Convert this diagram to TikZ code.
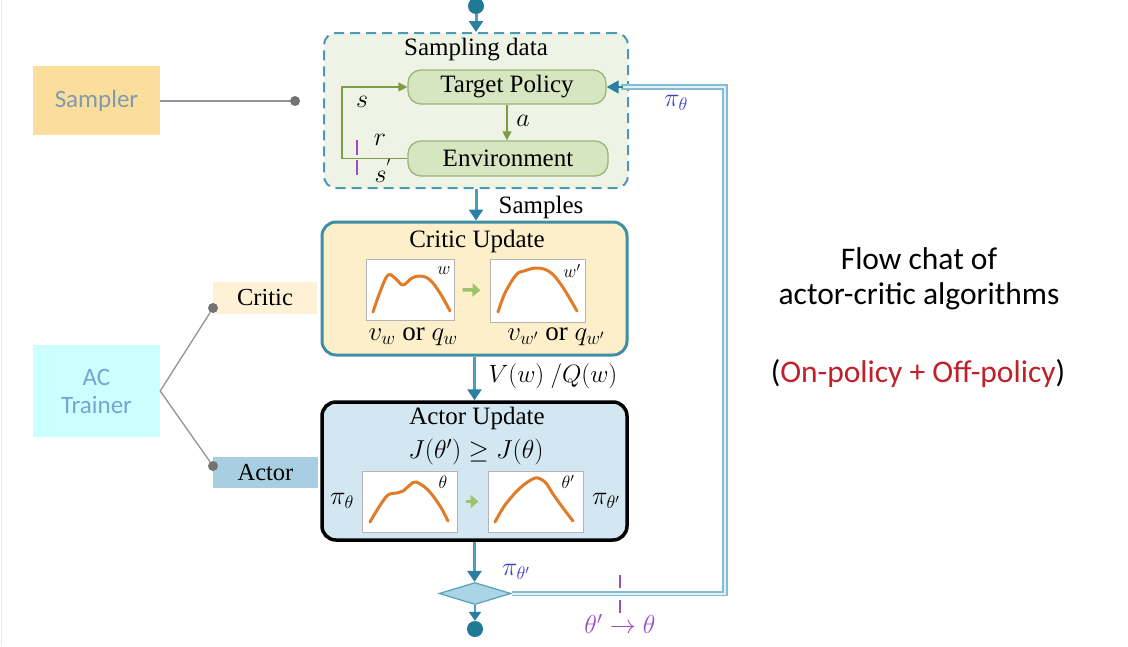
\RequirePackage{fix-cm}
\documentclass[tikz,border=0pt]{standalone}
\usepackage{amsmath,amssymb}
\usepackage{fontspec}
\setmainfont{Liberation Serif}
\newfontfamily\carl{Carlito}
\usetikzlibrary{shapes.geometric,arrows.meta,calc}
\definecolor{tealdot}{HTML}{1F7A96}
\definecolor{tealline}{HTML}{4E9DBA}
\definecolor{tealtip}{HTML}{2A80A0}
\definecolor{dashb}{HTML}{4D98B2}
\definecolor{sampbg}{HTML}{EEF3E6}
\definecolor{gfill}{HTML}{D6E6C0}
\definecolor{gdraw}{HTML}{9CB57A}
\definecolor{garrow}{HTML}{7C9E42}
\definecolor{lgarrow}{HTML}{9CC46A}
\definecolor{critbg}{HTML}{FCEFC9}
\definecolor{critdraw}{HTML}{3E8EA8}
\definecolor{actbg}{HTML}{D2E7F1}
\definecolor{orangec}{HTML}{E07B2A}
\definecolor{samplerbg}{HTML}{FBDE9C}
\definecolor{samplertx}{HTML}{7F9BB0}
\definecolor{acbg}{HTML}{CCFFFF}
\definecolor{actx}{HTML}{78A4D2}
\definecolor{criticlab}{HTML}{FFF1D6}
\definecolor{actorlab}{HTML}{A8CFE1}
\definecolor{pib}{HTML}{3A3FCC}
\definecolor{purp}{HTML}{9A4FC0}
\definecolor{darkred}{HTML}{C0202A}
\definecolor{fbline}{HTML}{84BCD3}
\definecolor{fbinner}{HTML}{E2F1F7}
\definecolor{diamf}{HTML}{A9D5E7}
\definecolor{diamd}{HTML}{5AA0B8}
\definecolor{plotd}{HTML}{B4B4B4}
\begin{document}
\begin{tikzpicture}[x=1pt,y=-1pt,
  font=\fontsize{25}{29}\selectfont,
  lab/.style={rectangle,inner sep=0pt,anchor=center},
  sidebox/.style={rectangle,inner sep=0pt,font=\carl\fontsize{25}{29}\selectfont,align=center},
  tagbox/.style={rectangle,inner sep=0pt,font=\fontsize{24.5}{28}\selectfont},
  dotnode/.style={circle,fill=gray!90!black,inner sep=0pt,minimum size=10pt},
  tealdotnode/.style={circle,fill=tealdot,inner sep=0pt,minimum size=16pt},
  greyline/.style={draw=gray!85,line width=1.3pt},
  greenbox/.style={rectangle,rounded corners=13pt,draw=gdraw,fill=gfill,line width=1.3pt,inner sep=0pt},
  plotbox/.style={rectangle,draw=plotd,fill=white,line width=1pt,inner sep=0pt},
  flow/.style={draw=tealline,line width=3pt,-{Triangle[length=11pt,width=14pt,color=tealtip]}},
  garr/.style={draw=garrow,line width=1.3pt,-{Triangle[length=9pt,width=9pt]}},
  lgarr/.style={draw=lgarrow,line width=3.5pt,-{Triangle[length=8pt,width=13pt]},shorten <=8pt,shorten >=9pt},
  curve/.style={draw=orangec,line width=3pt,line cap=round,line join=round},
  fb/.style={draw=fbline,line width=1.7pt,double=fbinner,double distance=2pt},
  purpmark/.style={draw=purp,line width=1.2pt},
  mlab/.style={inner sep=0pt,font=\fontsize{26}{30}\selectfont},
  pilab/.style={inner sep=0pt,font=\fontsize{26}{30}\selectfont},
  smlab/.style={inner sep=0pt,font=\fontsize{18}{21}\selectfont},
  vqlabel/.style={inner sep=0pt,font=\fontsize{27}{31}\selectfont},
  bigsans/.style={inner sep=0pt,font=\carl\fontsize{31.5}{36}\selectfont}
]
\useasboundingbox (0,0) rectangle (1128,646);
\fill[white] (0,0) rectangle (1128,646);
\draw[gray!18,line width=1.2pt] (1.5,0) -- (1.5,646);

% ---- left side ----
\node[sidebox,fill=samplerbg,text=samplertx,minimum width=127pt,minimum height=69pt] (sampler) at (96.5,100.5) {Sampler};
\node[dotnode] (sdot) at (295,101) {};
\draw[greyline] (sampler.east |- sdot) -- (sdot);

\node[sidebox,fill=acbg,text=actx,minimum width=127pt,minimum height=92pt] (ac) at (96.5,391) {AC\\[-1pt]Trainer};
\node[tagbox,fill=criticlab,minimum width=104pt,minimum height=32pt] (criticlab) at (265,298) {Critic};
\node[tagbox,fill=actorlab,minimum width=105pt,minimum height=31pt] (actorlab) at (265.5,472.5) {Actor};
\node[dotnode] (cdot) at (213,308) {};
\node[dotnode] (adot) at (213,466) {};
\draw[greyline] (cdot) -- (ac.east) -- (adot);

% ---- sampling data ----
\node[rectangle,rounded corners=12pt,draw=dashb,fill=sampbg,line width=2pt,dash pattern=on 10pt off 6pt,minimum width=304pt,minimum height=155pt,inner sep=0pt] (sbox) at (476,110.5) {};
\node[lab] (stitle) at (476,50) {Sampling data};
\node[greenbox,minimum width=198pt,minimum height=34pt] (tp) at (507,87) {Target Policy};
\node[greenbox,minimum width=200pt,minimum height=35pt] (env) at (508,158.5) {Environment};
\draw[garr] (tp.south) -- (tp.south |- env.north);
\coordinate (loopx) at (342,0);
\draw[garr] (env.west) -- (env.west -| loopx) -- (loopx |- tp.west) -- (tp.west);
\node[mlab] (la) at (523,121) {$a$};
\node[mlab] (ls) at (362,102) {$s$};
\node[mlab] (lr) at (380,140) {$r$};
\node[mlab] (lsp) at (383,171) {$s^{'}$};
\coordinate (pm1) at (357,140);
\coordinate (pm2) at (357,177);
\draw[purpmark,dash pattern=on 15pt off 5pt] (pm1) -- (pm2);

% ---- top dot ----
\node[tealdotnode] (topdot) at (476,6) {};
\draw[flow] (topdot) -- (sbox.north);

% ---- critic ----
\node[rectangle,rounded corners=14pt,draw=critdraw,fill=critbg,line width=3pt,minimum width=305pt,minimum height=133pt,inner sep=0pt] (critic) at (474.5,288.5) {};
\draw[flow] (sbox.south) -- (sbox.south |- critic.north);
\node[lab] (samples) at (541,207) {Samples};
\node[lab] (ctitle) at (477,241) {Critic Update};
\node[plotbox,minimum width=88pt,minimum height=61pt] (cp1) at (410,289.5) {};
\node[plotbox,minimum width=95pt,minimum height=63pt] (cp2) at (537.5,290.5) {};
\draw[curve] plot[smooth,tension=0.6] coordinates {(373,312) (380,292) (388,275) (396,279) (403,285) (412,278) (421,276) (430,280) (440,293) (450,311)};
\draw[curve] plot[smooth,tension=0.6] coordinates {(498,312) (505,293) (516,275) (524,271) (537,268) (550,272) (562,286) (577,311)};
\draw[lgarr] (cp1.east) -- (cp2.west);
\node[smlab] (wl) at (444,271) {$w$};
\node[smlab] (wr) at (572,271) {$w'$};
\node[vqlabel] (vq1) at (413,337) {$v_w$ or $q_w$};
\node[vqlabel] (vq2) at (556,337) {$v_{w'}$ or $q_{w'}$};

% ---- actor ----
\node[rectangle,rounded corners=14pt,draw=black,fill=actbg,line width=3.5pt,minimum width=305pt,minimum height=138pt,inner sep=0pt] (actor) at (474.5,471) {};
\draw[flow] (critic.south) -- (critic.south |- actor.north);
\node[inner sep=0pt,font=\fontsize{25}{29}\selectfont] (vqlab) at (553,376) {$V(w)\ /Q(w)$};
\node[lab] (atitle) at (477,418) {Actor Update};
\node[lab,font=\fontsize{26}{30}\selectfont] (jform) at (476,452) {$J(\theta')\geq J(\theta)$};
\node[plotbox,minimum width=95pt,minimum height=61pt] (ap1) at (409.5,501.5) {};
\node[plotbox,minimum width=95pt,minimum height=61pt] (ap2) at (535.5,501.5) {};
\draw[curve] plot[smooth,tension=0.6] coordinates {(370,522) (379,507) (388,495) (397,493) (403,491) (410,485) (416,482) (428,490) (440,506) (448,521)};
\draw[curve] plot[smooth,tension=0.5] coordinates {(495,522) (505,505) (520,488) (535,478) (545,482) (553,494) (563,508) (573,521)};
\draw[lgarr] (ap1.east) -- (ap2.west);
\node[smlab] (tl) at (443,482) {$\theta$};
\node[smlab] (tr) at (568,482) {$\theta'$};
\node[pilab] (pil) at (342,501) {$\pi_\theta$};
\node[pilab] (pir) at (606,501) {$\pi_{\theta'}$};

% ---- diamond & bottom ----
\node[diamond,draw=diamd,fill=diamf,line width=1.2pt,minimum width=72pt,minimum height=22pt,inner sep=0pt] (diam) at (475,593.5) {};
\draw[flow] (actor.south) -- (actor.south |- diam.north);
\node[pilab,text=pib] (pitp) at (516,572) {$\pi_{\theta'}$};
\node[tealdotnode] (botdot) at (475,629) {};
\draw[flow,line width=2.5pt,-{Triangle[length=9pt,width=12pt,color=tealtip]}] (diam.south) -- (botdot.north);

% ---- feedback ----
\coordinate (fbx) at (725,0);
\draw[fb] (diam.east) -- (diam.east -| fbx) -- (fbx |- tp.east) -- ([xshift=14pt]tp.east);
\draw[draw=tealtip,line width=1.5pt,-{Triangle[length=12pt,width=13pt]}] ([xshift=16pt]tp.east) -- (tp.east);
\node[pilab,text=pib] (pit) at (676,103) {$\pi_\theta$};
\coordinate (pm3) at (620,575);
\coordinate (pm4) at (620,613);
\draw[purpmark,dash pattern=on 13pt off 12pt] (pm3) -- (pm4);
\node[mlab,text=purp] (thup) at (620,624) {$\theta'\rightarrow\theta$};

% ---- right text ----
\node[bigsans] (t1) at (919,259) {Flow chat of};
\node[bigsans] (t2) at (919,296) {actor-critic algorithms};
\node[bigsans] (t3) at (918,374) {(\textcolor{darkred}{On-policy + Off-policy})};
\end{tikzpicture}
\end{document}
